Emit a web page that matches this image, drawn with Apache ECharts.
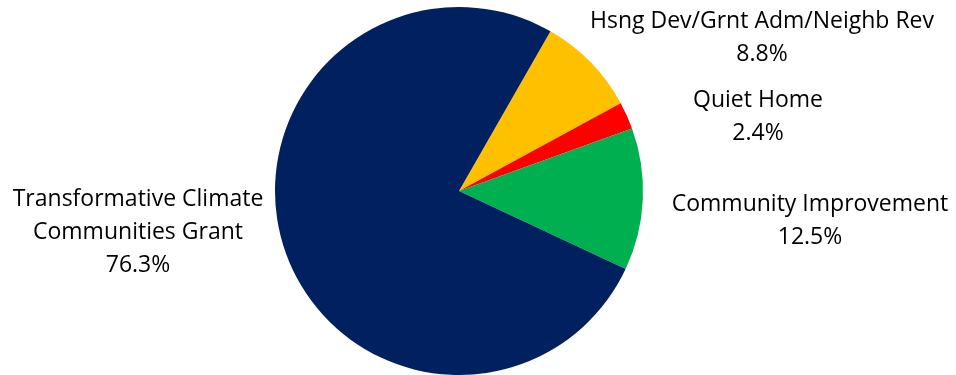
<!DOCTYPE html>
<html>
<head>
<meta charset="utf-8">
<script src="https://cdn.jsdelivr.net/npm/echarts@6/dist/echarts.min.js"></script>
<style>
  html, body { margin: 0; padding: 0; background: #fff; }
  #chart { width: 956px; height: 375px; }
</style>
</head>
<body>
<div id="chart"></div>
<script>
// Budget share by program, in percent, listed clockwise from the top-right
const categories = [
  'Hsng Dev/Grnt Adm/Neighb Rev',
  'Quiet Home',
  'Community Improvement',
  'Transformative Climate\nCommunities Grant'
];
const shares = [8.8, 2.4, 12.5, 76.3];
const colors = ['#FFC000', '#FF0000', '#00B050', '#002060'];

// Label block centres (px) placed beside each slice
const labelSpots = [[762, 38], [758, 117], [810, 221], [138, 232]];

const chart = echarts.init(document.getElementById('chart'), null, { renderer: 'canvas' });
chart.setOption({
  animation: false,
  series: [{
    type: 'pie',
    center: [459, 191],
    radius: 184,
    startAngle: 60.2,
    clockwise: true,
    data: categories.map((name, i) => ({
      name: name,
      value: shares[i],
      itemStyle: { color: colors[i] }
    })),
    itemStyle: { borderWidth: 0 },
    label: {
      show: true,
      position: 'outside',
      formatter: p => p.name + '\n' + p.value.toFixed(1) + '%',
      color: '#000',
      fontFamily: '"Open Sans", "Noto Sans", sans-serif',
      fontSize: 23,
      lineHeight: 33,
      align: 'center',
      overflow: 'none',
      width: 400
    },
    labelLine: { show: false },
    labelLayout: p => ({
      x: labelSpots[p.dataIndex][0],
      y: labelSpots[p.dataIndex][1],
      align: 'center',
      verticalAlign: 'middle'
    })
  }]
});
</script>
</body>
</html>
